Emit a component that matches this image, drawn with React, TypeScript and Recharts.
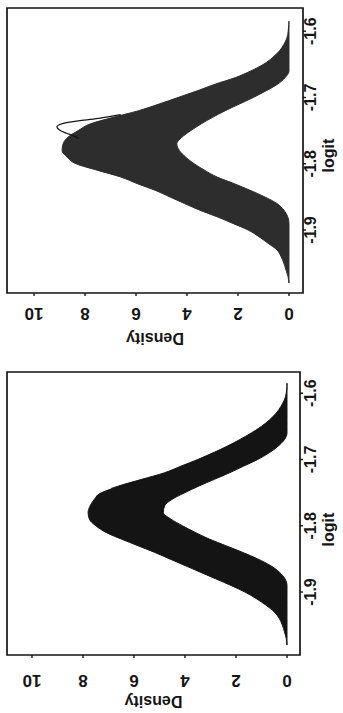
import { ComposedChart, Area, Line, XAxis, YAxis, ReferenceArea, Label } from "recharts";

// logit grid shared by both panels
const logitGrid = [
  -1.98, -1.97, -1.96, -1.95, -1.94, -1.93, -1.92, -1.91, -1.9, -1.89, -1.88, -1.87, -1.86, -1.85,
  -1.84, -1.83, -1.82, -1.81, -1.8, -1.79, -1.78, -1.77, -1.76, -1.75, -1.74, -1.73, -1.72, -1.71,
  -1.7, -1.69, -1.68, -1.67, -1.66, -1.65, -1.64, -1.63, -1.62, -1.61, -1.6, -1.59, -1.585,
];

// envelope of the overlaid density curves, top panel
const topUpper = [
  0, 0.04, 0.12, 0.2, 0.31, 0.47, 0.82, 1.18, 1.6, 2.2, 2.82, 3.5, 4.1, 4.67, 5.25, 5.95, 6.6, 7.5,
  8.35, 8.7, 8.9, 8.86, 8.67, 8.27, 7.8, 6.9, 5.9, 5.1, 4.35, 3.6, 2.9, 2.1, 1.5, 1.0, 0.65, 0.38,
  0.2, 0.08, 0.03, 0.01, 0,
];
const topLower = [
  0, 0, 0, 0, 0, 0, 0, 0, 0, 0, 0.05, 0.2, 0.47, 0.95, 1.53, 2.15, 2.82, 3.3, 3.72, 4.05, 4.3, 4.4,
  4.2, 3.85, 3.45, 3.0, 2.5, 1.95, 1.4, 0.9, 0.45, 0.15, 0, 0, 0, 0, 0, 0, 0, 0, 0,
];

// bottom panel
const bottomUpper = [
  0, 0.03, 0.1, 0.18, 0.3, 0.5, 0.82, 1.2, 1.65, 2.2, 2.8, 3.4, 4.0, 4.6, 5.2, 5.85, 6.5, 7.1, 7.5,
  7.75, 7.8, 7.72, 7.55, 7.3, 6.6, 5.7, 4.8, 4.15, 3.5, 2.9, 2.35, 1.85, 1.4, 1.0, 0.68, 0.42, 0.24,
  0.1, 0.03, 0, 0,
];
const bottomLower = [
  0, 0, 0, 0, 0, 0, 0, 0, 0, 0, 0.08, 0.3, 0.65, 1.15, 1.75, 2.4, 3.05, 3.6, 4.1, 4.55, 4.85, 4.8,
  4.5, 4.0, 3.45, 2.85, 2.25, 1.7, 1.15, 0.7, 0.35, 0.1, 0, 0, 0, 0, 0, 0, 0, 0, 0,
];

// single curve sticking out above the band (top panel)
const loopLogit = [-1.726, -1.731, -1.735, -1.739, -1.744, -1.749, -1.754, -1.758, -1.762];
const loopDensity = [6.6, 7.4, 8.2, 8.85, 9.1, 9.0, 8.72, 8.45, 8.25];

// thin gap near the peak (bottom panel)
const gapLogit = [-1.743, -1.747, -1.752];
const gapDensity = [6.9, 7.2, 7.45];

const logitTicks = [-1.9, -1.8, -1.7, -1.6];
const densityTicks = [0, 2, 4, 6, 8, 10];

const font = '"Liberation Sans", Arial, sans-serif';
const ink = "#151515";

type PanelProps = {
  top: number;
  w: number;
  h: number;
  plotTop: number;
  rightM: number;
  xAxisH: number;
  xDomain: [number, number];
  yDomain: [number, number];
  upper: number[];
  lower: number[];
  fill: string;
  xTickDy: number;
  yTickX: number;
  logitY: number;
  logitDx: number;
  densityX: number;
  extra?: { x: number; y: number }[];
  extraColor?: string;
};

const yAxisW = 60;

function Panel(p: PanelProps) {
  const rows = logitGrid.map((x, i) => ({ x, band: [p.lower[i], p.upper[i]] }));
  const plotW = p.w - yAxisW - p.rightM;
  const plotH = p.h - p.plotTop - p.xAxisH;

  return (
    <div
      style={{
        position: "absolute",
        left: 0,
        top: p.top,
        width: p.w,
        height: p.h,
        transformOrigin: "0 0",
        transform: `translateY(${p.w}px) rotate(-90deg)`,
      }}
    >
      <ComposedChart
        width={p.w}
        height={p.h}
        data={rows}
        margin={{ top: p.plotTop, right: p.rightM, bottom: 0, left: 0 }}
      >
        <XAxis
          type="number"
          dataKey="x"
          domain={p.xDomain}
          ticks={logitTicks}
          allowDataOverflow
          interval={0}
          height={p.xAxisH}
          axisLine={false}
          tickSize={3}
          tickLine={{ stroke: ink, strokeWidth: 1.4 }}
          tick={({ x, y, payload }: any) => (
            <text
              x={x}
              y={y + p.xTickDy}
              textAnchor="middle"
              dominantBaseline="central"
              fontFamily={font}
              fontWeight="bold"
              fontSize={16}
              fill={ink}
            >
              {String(payload.value)}
            </text>
          )}
        >
          <Label
            content={() => (
              <text
                x={yAxisW + plotW / 2 + p.logitDx}
                y={p.logitY}
                textAnchor="middle"
                dominantBaseline="central"
                fontFamily={font}
                fontWeight="bold"
                fontSize={16}
                fill={ink}
              >
                logit
              </text>
            )}
          />
        </XAxis>
        <YAxis
          type="number"
          domain={p.yDomain}
          ticks={densityTicks}
          allowDataOverflow
          interval={0}
          width={yAxisW}
          axisLine={false}
          tickSize={3}
          tickLine={{ stroke: ink, strokeWidth: 1.4 }}
          tick={({ y, payload }: any) => (
            <text
              x={p.yTickX}
              y={y}
              transform={`rotate(-90 ${p.yTickX} ${y})`}
              textAnchor="middle"
              dominantBaseline="central"
              fontFamily={font}
              fontWeight="bold"
              fontSize={17}
              fill={ink}
            >
              {String(payload.value)}
            </text>
          )}
        >
          <Label
            content={() => (
              <text
                x={p.densityX}
                y={p.plotTop + plotH / 2}
                transform={`rotate(-90 ${p.densityX} ${p.plotTop + plotH / 2})`}
                textAnchor="middle"
                dominantBaseline="central"
                fontFamily={font}
                fontWeight="bold"
                fontSize={16}
                fill={ink}
              >
                Density
              </text>
            )}
          />
        </YAxis>
        <Area
          type="monotone"
          dataKey="band"
          fill={p.fill}
          fillOpacity={1}
          stroke={p.fill}
          strokeWidth={1}
          dot={false}
          activeDot={false}
          isAnimationActive={false}
        />
        {p.extra && (
          <Line
            data={p.extra}
            dataKey="y"
            type="monotone"
            stroke={p.extraColor}
            strokeWidth={1.3}
            dot={false}
            activeDot={false}
            isAnimationActive={false}
          />
        )}
        <ReferenceArea
          x1={p.xDomain[0]}
          x2={p.xDomain[1]}
          y1={p.yDomain[0]}
          y2={p.yDomain[1]}
          fill="none"
          fillOpacity={0}
          stroke={ink}
          strokeWidth={1.7}
          ifOverflow="visible"
        />
      </ComposedChart>
    </div>
  );
}

export default function App() {
  const loop = loopLogit.map((x, i) => ({ x, y: loopDensity[i] }));
  const gap = gapLogit.map((x, i) => ({ x, y: gapDensity[i] }));

  return (
    <div
      style={{
        position: "absolute",
        left: 0,
        top: 0,
        width: 343,
        height: 713,
        background: "#fff",
        overflow: "hidden",
      }}
    >
      <Panel
        top={0}
        w={353}
        h={343}
        plotTop={7}
        rightM={8}
        xAxisH={40}
        xDomain={[-1.995, -1.565]}
        yDomain={[-0.55, 11.06]}
        upper={topUpper}
        lower={topLower}
        fill="#2d2d2d"
        xTickDy={2}
        yTickX={40}
        logitY={328}
        logitDx={-5}
        densityX={15}
        extra={loop}
        extraColor={ink}
      />
      <Panel
        top={365}
        w={350}
        h={343}
        plotTop={7}
        rightM={7}
        xAxisH={43}
        xDomain={[-1.995, -1.568]}
        yDomain={[-0.51, 10.98]}
        upper={bottomUpper}
        lower={bottomLower}
        fill="#141414"
        xTickDy={5}
        yTickX={35}
        logitY={328}
        logitDx={-16}
        densityX={14}
        extra={gap}
        extraColor="#ffffff"
      />
    </div>
  );
}
